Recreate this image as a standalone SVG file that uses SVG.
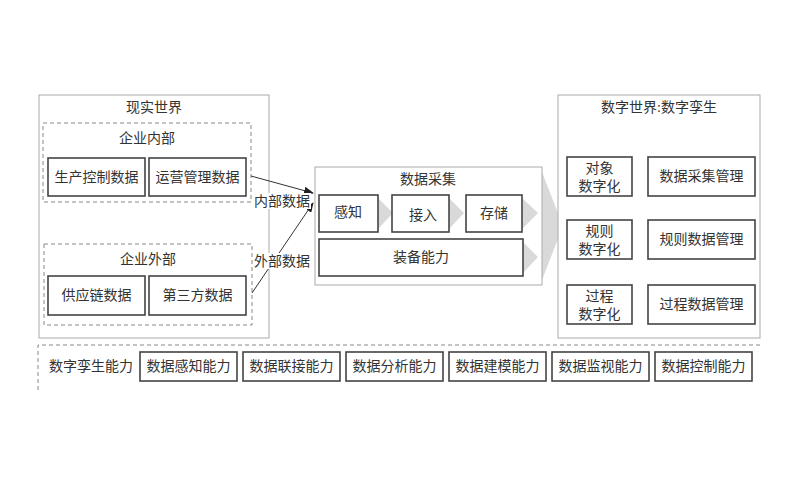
<svg xmlns="http://www.w3.org/2000/svg" width="800" height="500" viewBox="0 0 800 500">
<style>
text{font-family:"Liberation Serif","Noto Sans CJK SC",serif;font-size:14px;fill:#333;text-anchor:middle}
.o{fill:#fff;stroke:#aaa;stroke-width:1}
.d{fill:none;stroke:#888;stroke-width:1;stroke-dasharray:4 3}
.b{fill:#fff;stroke:#444;stroke-width:1.6}
.g{fill:#d9d9d9}
.l{stroke:#333;stroke-width:1;fill:none}
</style>
<defs><marker id="a" markerWidth="10" markerHeight="8" refX="9" refY="4" orient="auto" markerUnits="userSpaceOnUse"><path d="M0,0L10,4L0,8z" fill="#222"/></marker></defs>
<rect width="800" height="500" fill="#fff"/>
<g id="real">
<rect class="o" x="39" y="95" width="230" height="243"/>
<text x="154" y="112">现实世界</text>
<g id="inner"><rect class="d" x="43" y="123" width="208" height="79"/><text x="147" y="143">企业内部</text>
<g id="n1"><rect class="b" x="48" y="158" width="97" height="38"/><text x="96.5" y="182">生产控制数据</text></g>
<g id="n2"><rect class="b" x="149" y="158" width="97" height="38"/><text x="197.5" y="182">运营管理数据</text></g></g>
<g id="outer"><rect class="d" x="44" y="244" width="208" height="81"/><text x="148" y="264">企业外部</text>
<g id="n3"><rect class="b" x="48" y="276" width="97" height="39"/><text x="96.5" y="300">供应链数据</text></g>
<g id="n4"><rect class="b" x="149" y="276" width="97" height="39"/><text x="197.5" y="300">第三方数据</text></g></g>
</g>
<g id="collect">
<path class="g" d="M542,172L563,226L542,280z"/>
<rect class="o" x="315" y="167" width="227" height="118"/>
<text x="428" y="184">数据采集</text>
<path class="g" d="M378,198L393,213L378,229z M449,198L464,213L449,229z M522,198L538,213L522,229z M523,242L538,257L523,273z"/>
<g id="c1"><rect class="b" x="319" y="195" width="59" height="37"/><text x="348" y="217">感知</text></g>
<g id="c2"><rect class="b" x="392" y="195" width="57" height="37"/><text x="423" y="220">接入</text></g>
<g id="c3"><rect class="b" x="466" y="195" width="56" height="37"/><text x="494" y="218">存储</text></g>
<g id="c4"><rect class="b" x="319" y="239" width="204" height="37"/><text x="421" y="262">装备能力</text></g>
</g>
<g id="digital">
<rect class="o" x="558" y="95" width="202" height="243"/>
<text x="659" y="112">数字世界:数字孪生</text>
<g id="d1"><rect class="b" x="567" y="157" width="65" height="39"/><text x="599.5" y="173">对象</text><text x="599.5" y="191">数字化</text></g>
<g id="d2"><rect class="b" x="648" y="157" width="107" height="39"/><text x="701.5" y="181">数据采集管理</text></g>
<g id="d3"><rect class="b" x="567" y="220" width="65" height="39"/><text x="599.5" y="236">规则</text><text x="599.5" y="254">数字化</text></g>
<g id="d4"><rect class="b" x="648" y="220" width="107" height="39"/><text x="701.5" y="244">规则数据管理</text></g>
<g id="d5"><rect class="b" x="567" y="285" width="65" height="39"/><text x="599.5" y="301">过程</text><text x="599.5" y="319">数字化</text></g>
<g id="d6"><rect class="b" x="648" y="285" width="107" height="39"/><text x="701.5" y="309">过程数据管理</text></g>
</g>
<g id="connectors">
<path class="l" d="M251,176L313,193" marker-end="url(#a)"/>
<path class="l" d="M252,293L313,203" marker-end="url(#a)"/>
<rect x="253" y="193" width="58" height="16" fill="#fff"/><text x="282" y="206">内部数据</text>
<rect x="253" y="253" width="58" height="16" fill="#fff"/><text x="282" y="266">外部数据</text>
</g>
<g id="twin">
<path class="d" d="M38,390V345H760"/>
<text x="91" y="371">数字孪生能力</text>
<g id="t1"><rect class="b" x="140" y="352" width="97" height="29"/><text x="188.5" y="371">数据感知能力</text></g>
<g id="t2"><rect class="b" x="243" y="352" width="97" height="29"/><text x="291.5" y="371">数据联接能力</text></g>
<g id="t3"><rect class="b" x="346" y="352" width="97" height="29"/><text x="394.5" y="371">数据分析能力</text></g>
<g id="t4"><rect class="b" x="449" y="352" width="97" height="29"/><text x="497.5" y="371">数据建模能力</text></g>
<g id="t5"><rect class="b" x="552" y="352" width="97" height="29"/><text x="600.5" y="371">数据监视能力</text></g>
<g id="t6"><rect class="b" x="655" y="352" width="97" height="29"/><text x="703.5" y="371">数据控制能力</text></g>
</g>
</svg>
